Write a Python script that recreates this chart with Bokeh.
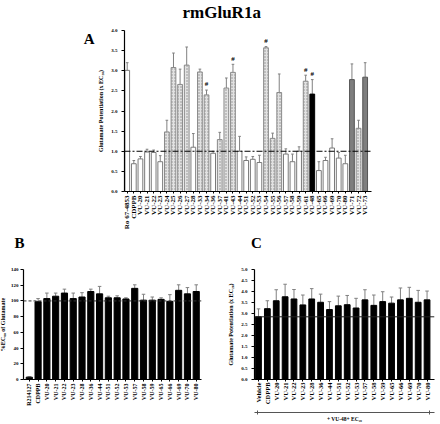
import numpy as np
from bokeh.plotting import figure
from bokeh.layouts import column, row
from bokeh.models import Span, Title, FixedTicker, Range1d, LinearAxis
from bokeh.core.properties import value
from bokeh.embed import file_html
from bokeh.resources import INLINE

FONT = "Liberation Serif"

# ---------------- Panel A data ----------------
a_labels = ["Ro 67-4853", "CDPPB", "VU-20", "VU-21", "VU-22", "VU-23", "VU-24", "VU-25",
            "VU-26", "VU-27", "VU-28", "VU-33", "VU-34", "VU-36", "VU-37", "VU-41",
            "VU-43", "VU-44", "VU-51", "VU-52", "VU-53", "VU-54", "VU-55", "VU-56",
            "VU-57", "VU-58", "VU-59", "VU-61", "VU-48", "VU-65", "VU-66", "VU-69",
            "VU-70", "VU-80", "VU-71", "VU-72", "VU-73"]
a_values = [3.01, 0.69, 0.81, 0.98, 0.97, 0.74, 1.48, 3.08, 2.66, 3.14, 1.10, 2.97, 2.40,
            0.95, 1.29, 2.57, 2.96, 1.00, 0.77, 0.80, 0.72, 3.57, 1.32, 2.46, 0.93, 0.74,
            1.00, 2.74, 2.42, 0.52, 0.77, 1.08, 0.83, 0.69, 2.78, 1.57, 2.84]
a_errors = [0.19, 0.08, 0.06, 0.07, 0.06, 0.15, 0.29, 0.36, 0.38, 0.45, 0.34, 0.07, 0.12,
            0.05, 0.18, 0.25, 0.20, 0.37, 0.09, 0.07, 0.18, 0.03, 0.13, 0.46, 0.13, 0.19,
            0.11, 0.15, 0.36, 0.22, 0.08, 0.23, 0.14, 0.21, 0.39, 0.20, 0.36]
a_kinds = ["w", "w", "w", "w", "w", "w", "h", "h", "h", "h", "w", "h", "h", "w", "h", "h",
           "h", "w", "w", "w", "w", "h", "h", "h", "w", "w", "w", "h", "k", "w", "w", "w",
           "w", "w", "g", "h", "g"]
a_marked = [12, 16, 21, 27, 28]
a_baseline = 1.0

# ---------------- Panel B data ----------------
b_labels = ["R214127", "CDPPB", "VU-20", "VU-21", "VU-22", "VU-23", "VU-28", "VU-36",
            "VU-44", "VU-51", "VU-52", "VU-53", "VU-57", "VU-58", "VU-59", "VU-65",
            "VU-66", "VU-69", "VU-70", "VU-80"]
b_values = [3, 99, 103, 106, 110, 103, 105, 112, 109, 104, 104, 102.5, 116, 101, 101, 102,
            99.5, 113.5, 109, 112]
b_errors = [0.5, 4, 7, 4, 5, 7, 5.5, 3, 9.5, 2, 2.5, 1.5, 4.5, 7.5, 4, 2, 8.5, 7, 8, 8.5]
b_ref = 100

# ---------------- Panel C data ----------------
c_labels = ["Vehicle", "CDPPB", "VU-20", "VU-21", "VU-22", "VU-23", "VU-28", "VU-36",
            "VU-44", "VU-51", "VU-52", "VU-53", "VU-57", "VU-58", "VU-59", "VU-65",
            "VU-66", "VU-69", "VU-70", "VU-80"]
c_values = [2.85, 3.22, 3.58, 3.76, 3.66, 3.39, 3.66, 3.51, 3.18, 3.35, 3.40, 3.25, 3.62,
            3.37, 3.54, 3.47, 3.62, 3.69, 3.51, 3.62]
c_errors = [0.36, 0.36, 0.50, 0.57, 0.43, 0.45, 0.47, 0.37, 0.36, 0.44, 0.42, 0.44, 0.46,
            0.47, 0.45, 0.28, 0.54, 0.50, 0.54, 0.40]
c_bracket_text = "+ VU-48+ EC\u2082\u2080"

# panel letters for B and C (positions in the thin strip between the rows, in pixels)
letters = ["B", "C"]
letter_x = [23, 260]
letter_y = [10, 10]


def style(p, labels, xfont="6px"):
    p.xgrid.visible = False
    p.ygrid.visible = False
    p.outline_line_color = None
    for ax in p.axis:
        ax.axis_line_width = 1.2
        ax.axis_line_color = "black"
        ax.major_tick_line_color = "black"
        ax.minor_tick_line_color = None
        ax.major_tick_in = 0
        ax.major_tick_out = 3
        ax.major_label_text_font = FONT
        ax.major_label_text_font_style = "bold"
        ax.major_label_text_font_size = "5px"
        ax.major_label_text_color = "black"
        ax.axis_label_text_font = FONT
        ax.axis_label_text_font_style = "bold"
        ax.axis_label_text_font_size = "6px"
        ax.axis_label_text_color = "black"
        ax.axis_label_standoff = 4
        ax.major_label_standoff = 4
    p.xaxis.ticker = FixedTicker(ticks=list(range(len(labels))))
    p.xaxis.major_label_overrides = {i: s for i, s in enumerate(labels)}
    p.xaxis.major_label_orientation = np.pi / 2
    p.xaxis.major_tick_out = 2
    p.xaxis.major_label_standoff = 2
    p.xaxis.major_label_text_font_size = xfont


def errbars(p, xs, vals, errs, cap=0.2, color="#808080"):
    tops = [v + e for v, e in zip(vals, errs)]
    p.segment(x0=xs, y0=vals, x1=xs, y1=tops, line_color=color, line_width=1)
    p.segment(x0=[x - cap for x in xs], y0=tops, x1=[x + cap for x in xs], y1=tops,
              line_color=color, line_width=1)


def bare_axis(ticks, names, size, standoff):
    return LinearAxis(ticker=FixedTicker(ticks=ticks),
                      major_label_overrides=dict(zip(ticks, names)),
                      axis_line_color=None, major_tick_line_color=None,
                      minor_tick_line_color=None, major_tick_in=0, major_tick_out=0,
                      major_label_standoff=standoff, major_label_text_font=FONT,
                      major_label_text_font_style="bold", major_label_text_font_size=size,
                      major_label_text_color="black")


# ---------------- Figure A ----------------
pa = figure(width=440, height=240, x_range=Range1d(-0.41, 36.96), y_range=Range1d(0, 4.0),
            output_backend="svg", toolbar_location=None, title=None,
            min_border_left=128, min_border_right=65, min_border_top=35, min_border_bottom=40)
style(pa, a_labels, xfont="7px")
aticks = [0, 0.5, 1.0, 1.5, 2.0, 2.5, 3.0, 3.5, 4.0]
pa.yaxis.ticker = FixedTicker(ticks=aticks)
pa.yaxis.major_label_overrides = {t: f"{t:.1f}" for t in aticks}
pa.yaxis.axis_label = "Glutamate Potentiation (x EC\u2082\u2080)"

xa = list(range(len(a_values)))
errbars(pa, xa, a_values, a_errors, cap=0.2)
styles = {
    "w": dict(fill_color="white", line_color="#7a7a7a"),
    "h": dict(fill_color="#e2e2e2", line_color="#8a8a8a", hatch_pattern="dot",
              hatch_color="#8c8c8c", hatch_scale=3, hatch_weight=0.6),
    "k": dict(fill_color="black", line_color="black"),
    "g": dict(fill_color="#7e7e7e", line_color="#555555"),
}
for kind, st in styles.items():
    idx = [i for i, k in enumerate(a_kinds) if k == kind]
    pa.vbar(x=idx, top=[a_values[i] for i in idx], width=0.72, bottom=0, line_width=1, **st)
pa.add_layout(Span(location=a_baseline, dimension="width", line_color="black",
                   line_width=1, line_dash="6 2 2 2"))
pa.text(x=a_marked, y=[a_values[i] + a_errors[i] + 0.04 for i in a_marked],
        text=["#"] * len(a_marked), text_font=value(FONT), text_font_style="bold",
        text_font_size="7px", text_align="center", text_baseline="bottom", text_color="black")
pa.add_layout(Title(text="rmGluR1a", align="left", offset=58, standoff=17,
                    text_font=FONT, text_font_style="bold", text_font_size="17px",
                    text_color="black"), "above")
pa.add_layout(bare_axis([3.8], ["A"], "15px", 1), "left")

# ---------------- strip with the letters of panels B and C ----------------
pl = figure(width=440, height=20, x_range=Range1d(0, 440), y_range=Range1d(0, 20),
            output_backend="svg", toolbar_location=None, title=None, min_border=0,
            min_border_left=0, min_border_right=0, min_border_top=0, min_border_bottom=0,
            x_axis_location=None, y_axis_location=None)
pl.xgrid.visible = False
pl.ygrid.visible = False
pl.outline_line_color = None
pl.text(x=letter_x, y=letter_y, text=letters, text_font=value(FONT), text_font_style="bold",
        text_font_size="15px", text_align="center", text_baseline="middle", text_color="black")

# ---------------- Figure B ----------------
pb = figure(width=220, height=172, x_range=Range1d(-0.66, 19.6), y_range=Range1d(0, 140),
            output_backend="svg", toolbar_location=None, title=None,
            min_border_left=22, min_border_right=15, min_border_top=14, min_border_bottom=35)
style(pb, b_labels)
pb.yaxis.ticker = FixedTicker(ticks=list(range(0, 141, 20)))
pb.yaxis.axis_label = "%EC\u2088\u2080 of Glutamate"
pb.yaxis.axis_label_standoff = 2
pb.yaxis.major_label_standoff = 2
xb = list(range(len(b_values)))
errbars(pb, xb, b_values, b_errors, cap=0.2)
pb.vbar(x=xb, top=b_values, width=0.7, fill_color="black", line_color="black")
pb.add_layout(Span(location=b_ref, dimension="width", line_color="#333333",
                   line_width=1, line_dash="3 2"))

# ---------------- Figure C ----------------
pc = figure(width=220, height=172, x_range=Range1d(-0.45, 19.84), y_range=Range1d(0, 5.0),
            output_backend="svg", toolbar_location=None, title=None,
            min_border_left=38, min_border_right=2, min_border_top=17, min_border_bottom=34)
style(pc, c_labels, xfont="6.5px")
cticks = [0, 0.5, 1.0, 1.5, 2.0, 2.5, 3.0, 3.5, 4.0, 4.5, 5.0]
pc.yaxis.ticker = FixedTicker(ticks=cticks)
pc.yaxis.major_label_overrides = {t: f"{t:.1f}" for t in cticks}
pc.yaxis.axis_label = "Glutamate Potentiation (x EC\u2082\u2080)"
pc.xaxis.major_label_standoff = 1
xc = list(range(len(c_values)))
errbars(pc, xc, c_values, c_errors, cap=0.2)
pc.vbar(x=xc, top=c_values, width=0.65, fill_color="black", line_color="black")
pc.add_layout(Span(location=c_values[0], dimension="width", line_color="#222222", line_width=1))
# invisible spacer between the compound names and the bracket
sp = LinearAxis(ticker=FixedTicker(ticks=[xc[0]]), major_label_overrides={xc[0]: ""},
                axis_line_color=None, major_tick_line_color=None, minor_tick_line_color=None,
                major_tick_in=0, major_tick_out=5, major_label_standoff=0,
                major_label_text_font_size="1px")
pc.add_layout(sp, "below")
# bracket under the compounds, drawn as a further bottom axis
br = LinearAxis(ticker=FixedTicker(ticks=[xc[0] - 0.1, xc[-1] + 0.3]),
                major_label_overrides={xc[0] - 0.1: "", xc[-1] + 0.3: ""},
                axis_label=c_bracket_text, axis_line_color="#555555", axis_line_width=1,
                major_tick_line_color="#555555", major_tick_in=2, major_tick_out=2,
                minor_tick_line_color=None, major_label_standoff=0, axis_label_standoff=1,
                axis_label_text_font=FONT, axis_label_text_font_style="bold",
                axis_label_text_font_size="5.5px", axis_label_text_color="black",
                major_label_text_font_size="1px")
pc.add_layout(br, "below")

layout = column(pa, row(pl), row(pb, pc), margin=(-8, 0, -4, -4))
open("out.html", "w").write(file_html(layout, INLINE))
